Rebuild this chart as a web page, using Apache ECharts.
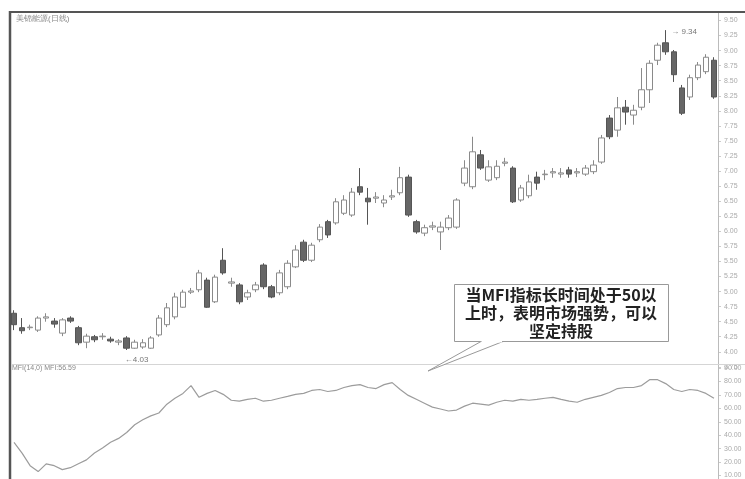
<!DOCTYPE html>
<html><head><meta charset="utf-8">
<script src="https://cdn.jsdelivr.net/npm/echarts@6/dist/echarts.min.js"></script>
<style>html,body{margin:0;padding:0;background:#fff}#c{width:745px;height:479px}</style>
</head><body><div id="c"></div>
<script>
// [open, close, lowest, highest]
const ohlc = [
[4.64,4.45,4.36,4.69],[4.40,4.35,4.30,4.56],[4.40,4.41,4.36,4.45],[4.36,4.56,4.33,4.59],
[4.56,4.58,4.50,4.64],[4.51,4.46,4.40,4.56],[4.31,4.53,4.26,4.56],[4.56,4.51,4.48,4.59],
[4.40,4.15,4.11,4.43],[4.16,4.26,4.06,4.30],[4.25,4.20,4.16,4.28],[4.25,4.26,4.20,4.31],
[4.21,4.18,4.15,4.25],[4.16,4.18,4.11,4.21],[4.23,4.06,4.03,4.26],[4.06,4.16,4.05,4.20],
[4.08,4.15,4.05,4.21],[4.06,4.23,4.05,4.26],[4.28,4.56,4.25,4.61],[4.45,4.73,4.41,4.81],
[4.58,4.91,4.54,4.98],[4.74,4.99,4.73,5.03],[4.99,5.01,4.96,5.06],[5.03,5.31,4.99,5.36],
[5.19,4.74,4.73,5.23],[4.83,5.24,4.81,5.28],[5.52,5.31,5.28,5.72],[5.14,5.16,5.08,5.23],
[5.11,4.83,4.79,5.14],[4.91,4.98,4.86,5.03],[5.03,5.11,4.99,5.16],[5.44,5.08,5.04,5.47],
[5.08,4.91,4.89,5.11],[4.98,5.31,4.94,5.36],[5.08,5.47,5.04,5.52],[5.41,5.69,5.39,5.77],
[5.82,5.52,5.49,5.86],[5.52,5.77,5.49,5.81],[5.86,6.07,5.82,6.12],[6.16,5.94,5.89,6.19],
[6.14,6.49,6.11,6.55],[6.30,6.52,6.27,6.60],[6.27,6.65,6.24,6.72],[6.74,6.65,6.60,7.05],
[6.55,6.49,6.11,6.72],[6.55,6.57,6.47,6.65],[6.47,6.52,6.40,6.60],[6.57,6.59,6.52,6.69],
[6.64,6.89,6.60,7.07],[6.90,6.27,6.24,6.94],[6.16,5.99,5.96,6.19],[5.97,6.06,5.92,6.11],
[6.07,6.09,6.02,6.16],[5.99,6.07,5.69,6.16],[6.06,6.22,6.02,6.27],[6.07,6.52,6.04,6.55],
[6.80,7.05,6.75,7.18],[6.74,7.32,6.70,7.57],[7.27,7.05,7.02,7.35],[6.85,7.07,6.82,7.18],
[6.89,7.08,6.85,7.18],[7.13,7.15,7.08,7.22],[7.05,6.49,6.47,7.08],[6.52,6.72,6.49,6.77],
[6.59,6.82,6.55,6.94],[6.90,6.80,6.69,6.99],[6.94,6.95,6.85,7.02],[6.97,6.99,6.89,7.05],
[6.95,6.97,6.89,7.05],[7.02,6.95,6.89,7.07],[6.97,6.99,6.90,7.05],[6.95,7.05,6.92,7.10],
[6.99,7.10,6.95,7.18],[7.15,7.55,7.12,7.60],[7.88,7.57,7.53,7.93],[7.68,8.05,7.57,8.23],
[8.06,7.98,7.77,8.18],[7.93,8.01,7.77,8.10],[8.06,8.35,8.01,8.71],[8.35,8.79,8.13,8.84],
[8.84,9.09,8.76,9.13],[9.13,8.98,8.93,9.34],[8.98,8.60,8.48,9.01],[8.38,7.96,7.93,8.43],
[8.23,8.55,8.18,8.60],[8.55,8.76,8.51,8.81],[8.65,8.89,8.61,8.94],[8.84,8.23,8.20,8.89]
];
const mfi = [
34.7,26.7,17.3,12.9,18.7,17.3,14.4,15.8,18.7,21.6,26.7,30.4,34.7,37.6,42.0,47.8,
51.5,54.4,56.5,63.1,67.5,71.1,76.9,68.2,71.1,73.3,70.4,66.0,65.3,66.7,67.5,65.3,
66.0,67.5,68.9,70.4,71.1,73.3,74.0,72.5,73.3,75.5,76.9,77.6,75.5,74.7,77.6,79.1,
74.0,69.6,66.7,63.8,60.9,59.5,58.0,58.7,61.6,63.8,63.1,62.4,64.5,66.0,65.3,66.7,
66.0,66.7,67.5,68.2,66.7,65.3,64.5,66.7,68.2,69.6,71.8,74.7,75.5,75.5,76.9,81.3,
81.3,78.4,74.0,72.5,74.0,73.3,71.1,67.5
];
const days = ohlc.map((d, i) => 'D' + (i + 1));
const titleText = '美锦能源(日线)';
const mfiLabel = 'MFI(14,0) MFI:56.59';
const calloutLines = ['当MFI指标长时间处于50以', '上时，表明市场强势，可以', '坚定持股'];

const chart = echarts.init(document.getElementById('c'), null, {renderer: 'canvas'});
const grey = '#9a9a9a';
chart.setOption({
  animation: false,
  backgroundColor: '#fff',
  grid: [
    {left: 10, right: 27, top: 20.48, bottom: 112.13},
    {left: 10, right: 27, top: 368, bottom: 1}
  ],
  xAxis: [
    {type: 'category', data: days, gridIndex: 0, boundaryGap: true, show: false},
    {type: 'category', data: days, gridIndex: 1, boundaryGap: true, show: false}
  ],
  yAxis: [
    {type: 'value', gridIndex: 0, position: 'right', min: 3.75, max: 9.5, interval: 0.25,
     axisLine: {show: false}, axisTick: {show: true, length: 3, lineStyle: {color: '#ccc'}},
     splitLine: {show: false},
     axisLabel: {fontSize: 7, color: '#aaa', margin: 6, formatter: v => v.toFixed(2)}},
    {type: 'value', gridIndex: 1, position: 'right', min: 10, max: 90, interval: 10,
     axisLine: {show: false}, axisTick: {show: true, length: 3, lineStyle: {color: '#ccc'}},
     splitLine: {show: false},
     axisLabel: {fontSize: 7, color: '#aaa', margin: 6, formatter: v => v.toFixed(2)}}
  ],
  series: [
    {type: 'candlestick', xAxisIndex: 0, yAxisIndex: 0, data: ohlc, barWidth: 6,
     itemStyle: {color: '#ffffff', color0: '#666666', borderColor: '#8a8a8a', borderColor0: '#555555', borderWidth: 1},
     markPoint: {
       symbol: 'circle', symbolSize: 1, itemStyle: {color: 'rgba(0,0,0,0)'},
       label: {fontSize: 8, color: '#777'},
       data: [
         {type: 'max', valueDim: 'highest', label: {position: 'right', offset: [0, 2], formatter: p => '\u2192 ' + p.value.toFixed(2)}},
         {type: 'min', valueDim: 'lowest', label: {position: 'bottom', offset: [10, 0], formatter: p => '\u2190' + p.value.toFixed(2)}}
       ]
     }},
    {type: 'line', xAxisIndex: 1, yAxisIndex: 1, data: mfi, symbol: 'none', smooth: false,
     lineStyle: {color: '#9c9c9c', width: 1.2}}
  ],
  graphic: [
    {type: 'line', shape: {x1: 9, y1: 12, x2: 745, y2: 12}, style: {stroke: '#555', lineWidth: 2}, z: 100},
    {type: 'line', shape: {x1: 10, y1: 11, x2: 10, y2: 479}, style: {stroke: '#555', lineWidth: 2.5}, z: 100},
    {type: 'line', shape: {x1: 718.5, y1: 13, x2: 718.5, y2: 479}, style: {stroke: '#bbb', lineWidth: 1}, z: 100},
    {type: 'line', shape: {x1: 11, y1: 364.5, x2: 745, y2: 364.5}, style: {stroke: '#d5d5d5', lineWidth: 1}, z: 100},
    {type: 'text', left: 16, top: 15, style: {text: titleText, fontSize: 8, fill: '#888'}, z: 100},
    {type: 'text', left: 12, top: 365, style: {text: mfiLabel, fontSize: 7, fill: '#888'}, z: 100},
    {type: 'rect', shape: {x: 454.5, y: 284.5, width: 214, height: 57}, style: {fill: '#fff', stroke: '#999', lineWidth: 1}, z: 100},
    {type: 'polyline', shape: {points: [[481, 341.5], [428, 371], [503, 341.5]]}, style: {fill: '#fff', stroke: '#999', lineWidth: 1}, z: 101},
    {type: 'line', shape: {x1: 482, y1: 341.5, x2: 502, y2: 341.5}, style: {stroke: '#fff', lineWidth: 2}, z: 102},
    {type: 'text', x: 561, y: 295, style: {text: calloutLines[0], fontSize: 16, fontWeight: 'bold', fontFamily: 'Noto Sans CJK SC', fill: '#222', align: 'center', verticalAlign: 'middle'}, z: 103},
    {type: 'text', x: 561, y: 313, style: {text: calloutLines[1], fontSize: 16, fontWeight: 'bold', fontFamily: 'Noto Sans CJK SC', fill: '#222', align: 'center', verticalAlign: 'middle'}, z: 103},
    {type: 'text', x: 561, y: 331, style: {text: calloutLines[2], fontSize: 16, fontWeight: 'bold', fontFamily: 'Noto Sans CJK SC', fill: '#222', align: 'center', verticalAlign: 'middle'}, z: 103}
  ]
});
</script></body></html>
